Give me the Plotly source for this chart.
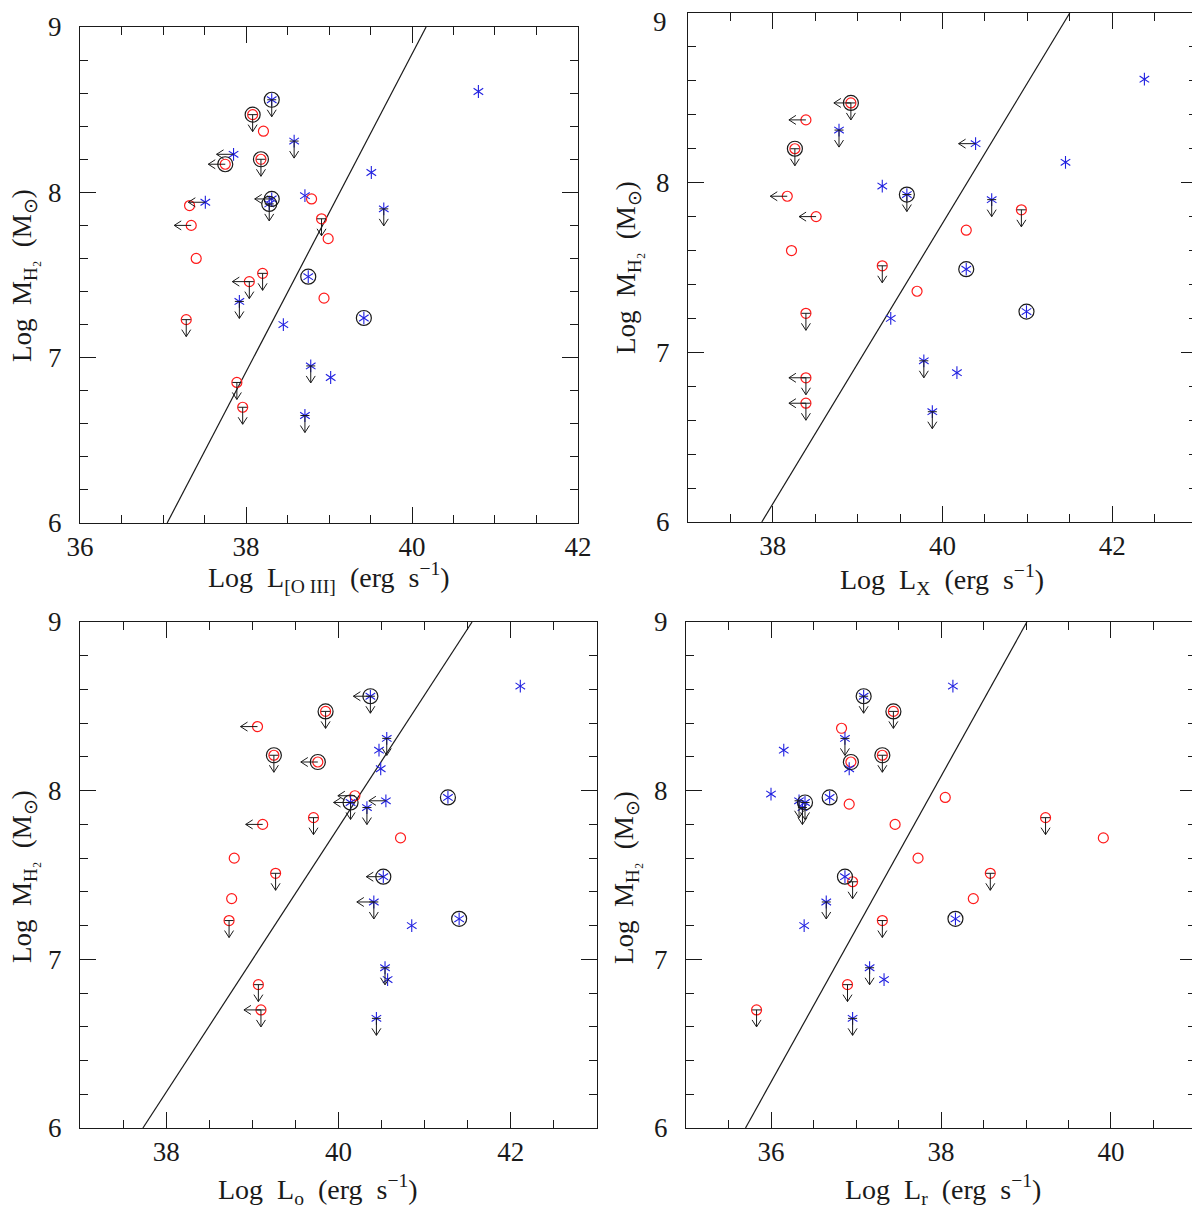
import plotly.graph_objects as go

# ---------------- data ----------------
# flags: d = upper limit in y (down arrow), l = upper limit in x (left arrow), c = black ring
P1_RED_X = [38.08, 38.21, 37.75, 38.18, 37.32, 37.34, 37.40, 38.79, 38.91, 38.99, 38.04, 38.20, 38.94, 37.28, 37.89, 37.96]
P1_RED_Y = [8.47, 8.37, 8.17, 8.20, 7.92, 7.80, 7.60, 7.96, 7.84, 7.72, 7.46, 7.51, 7.36, 7.23, 6.85, 6.70]
P1_RED_F = ["dc", "", "lc", "dc", "", "l", "", "", "d", "", "ld", "d", "", "d", "d", "d"]
P1_BLUE_X = [38.31, 38.58, 37.85, 37.51, 38.31, 38.28, 38.71, 39.51, 39.66, 40.80, 38.75, 37.92, 38.45, 39.42, 38.78, 39.02, 38.71]
P1_BLUE_Y = [8.56, 8.31, 8.23, 7.94, 7.96, 7.93, 7.98, 8.12, 7.90, 8.61, 7.49, 7.34, 7.20, 7.24, 6.95, 6.88, 6.65]
P1_BLUE_F = ["dc", "d", "l", "l", "lc", "dc", "", "", "d", "", "c", "d", "", "c", "d", "", "d"]
P1_FIT_X = [37.05, 40.17]
P1_FIT_Y = [6.0, 9.0]

P2_RED_X = [38.92, 38.39, 38.26, 38.17, 38.51, 38.22, 39.29, 39.70, 38.39, 38.39, 38.39, 40.28, 40.93]
P2_RED_Y = [8.47, 8.37, 8.20, 7.92, 7.80, 7.60, 7.51, 7.36, 7.23, 6.85, 6.70, 7.72, 7.84]
P2_RED_F = ["ldc", "l", "dc", "l", "l", "", "d", "", "d", "ld", "ld", "", "d"]
P2_BLUE_X = [38.78, 40.39, 41.45, 42.38, 39.29, 39.58, 40.58, 40.28, 40.99, 39.39, 39.78, 40.17, 39.88]
P2_BLUE_Y = [8.31, 8.23, 8.12, 8.61, 7.98, 7.93, 7.90, 7.49, 7.24, 7.20, 6.95, 6.88, 6.65]
P2_BLUE_F = ["d", "l", "", "", "", "dc", "d", "c", "c", "", "d", "", "d"]
P2_FIT_X = [37.87, 41.50]
P2_FIT_Y = [6.0, 9.0]

P3_RED_X = [39.85, 39.06, 39.25, 39.76, 40.19, 39.12, 39.71, 38.79, 39.27, 38.76, 38.73, 40.72, 39.07, 39.10]
P3_RED_Y = [8.47, 8.38, 8.21, 8.17, 7.97, 7.80, 7.84, 7.60, 7.51, 7.36, 7.23, 7.72, 6.85, 6.70]
P3_RED_F = ["dc", "l", "dc", "lc", "l", "l", "d", "", "d", "", "d", "", "d", "ld"]
P3_BLUE_X = [40.37, 42.11, 40.56, 40.47, 40.49, 40.14, 40.55, 40.33, 41.27, 40.52, 40.41, 40.85, 41.40, 40.54, 40.57, 40.44]
P3_BLUE_Y = [8.56, 8.62, 8.31, 8.24, 8.13, 7.93, 7.94, 7.90, 7.96, 7.49, 7.34, 7.20, 7.24, 6.95, 6.88, 6.65]
P3_BLUE_F = ["ldc", "", "d", "", "", "ldc", "l", "d", "c", "lc", "ld", "", "c", "d", "", "d"]
P3_FIT_X = [37.73, 41.55]
P3_FIT_Y = [6.0, 9.0]

P4_RED_X = [37.44, 36.83, 36.94, 37.31, 36.92, 37.46, 38.05, 37.73, 36.96, 38.58, 38.38, 37.31, 36.90, 35.83, 39.23, 39.91]
P4_RED_Y = [8.47, 8.37, 8.17, 8.21, 7.92, 7.80, 7.96, 7.60, 7.46, 7.51, 7.36, 7.23, 6.85, 6.70, 7.84, 7.72]
P4_RED_F = ["dc", "", "c", "dc", "", "", "", "", "d", "d", "", "d", "d", "d", "d", ""]
P4_BLUE_X = [37.09, 38.14, 36.87, 36.15, 36.92, 36.00, 36.69, 36.40, 36.33, 36.37, 36.87, 36.65, 36.39, 38.17, 37.16, 37.33, 36.96]
P4_BLUE_Y = [8.56, 8.62, 8.31, 8.24, 8.13, 7.98, 7.96, 7.93, 7.94, 7.90, 7.49, 7.34, 7.20, 7.24, 6.95, 6.88, 6.65]
P4_BLUE_F = ["dc", "", "d", "", "", "", "c", "dc", "d", "d", "c", "d", "", "c", "d", "", "d"]
P4_FIT_X = [35.70, 39.01]
P4_FIT_Y = [6.0, 9.0]

X_RANGES = [[36, 42], [37, 43], [37, 43], [35, 41]]
Y_RANGE = [6, 9]
Y_TICKS = [6, 7, 8, 9]
SP = "&nbsp;&nbsp;"
X_TITLES = ["Log" + SP + "L<sub>[O III]</sub>" + SP + "(erg" + SP + "s<sup>−1</sup>)",
            "Log" + SP + "L<sub>X</sub>" + SP + "(erg" + SP + "s<sup>−1</sup>)",
            "Log" + SP + "L<sub>o</sub>" + SP + "(erg" + SP + "s<sup>−1</sup>)",
            "Log" + SP + "L<sub>r</sub>" + SP + "(erg" + SP + "s<sup>−1</sup>)"]
Y_TITLE = "Log" + SP + "M<sub>H₂</sub>" + SP + "(M<sub>⊙</sub>)"

# ---------------- layout geometry (screen pixels) ----------------
OFF = 8                      # page body margin of the exported html
W, H = 1200 - OFF, 1209 - OFF
FRAMES = [  # left, right, top, bottom (screen pixels)
    (80, 578, 27, 523),
    (688, 1197, 13, 522),
    (80, 597, 622, 1128),
    (686, 1196, 622, 1128),
]
XTITLE_POS = [(329, 577), (942, 579), (318, 1189), (943, 1189)]
YTITLE_POS = [(24, 276), (628, 268), (24, 877), (626, 877)]
LABEL_GAP = 28               # distance from frame to the centre of a y tick label
TOP_LABEL_MIN = 22           # lowest screen y at which a top tick label fits on the page

PANELS = [
    (P1_RED_X, P1_RED_Y, P1_RED_F, P1_BLUE_X, P1_BLUE_Y, P1_BLUE_F, P1_FIT_X, P1_FIT_Y),
    (P2_RED_X, P2_RED_Y, P2_RED_F, P2_BLUE_X, P2_BLUE_Y, P2_BLUE_F, P2_FIT_X, P2_FIT_Y),
    (P3_RED_X, P3_RED_Y, P3_RED_F, P3_BLUE_X, P3_BLUE_Y, P3_BLUE_F, P3_FIT_X, P3_FIT_Y),
    (P4_RED_X, P4_RED_Y, P4_RED_F, P4_BLUE_X, P4_BLUE_Y, P4_BLUE_F, P4_FIT_X, P4_FIT_Y),
]

RED = "#ff1a1a"
BLUE = "#2020e0"
INK = "#1a1a1a"
FONT = "Liberation Serif"

fig = go.Figure()


def arrow_path(xs, ys, flags, xpu, ypu):
    L, hw, hh, bar = 17.0, 4.5, 7.0, 4.5
    px, py = [], []
    for x, y, f in zip(xs, ys, flags):
        if "d" in f:
            ty = y - L / ypu
            px += [x - bar / xpu, x + bar / xpu, None]
            py += [y, y, None]
            px += [x, x, None]
            py += [y, ty, None]
            px += [x - hw / xpu, x, x + hw / xpu, None]
            py += [ty + hh / ypu, ty, ty + hh / ypu, None]
        if "l" in f:
            tx = x - L / xpu
            px += [x, tx, None]
            py += [y, y, None]
            px += [tx + hh / xpu, tx, tx + hh / xpu, None]
            py += [y + hw / ypu, y, y - hw / ypu, None]
    return px, py


def fx_(p):
    return (p - OFF) / W


def fy_(p):
    return 1 - (p - OFF) / H


annotations = []
for i, (rx, ry, rf, bx, by, bf, fx, fy) in enumerate(PANELS):
    n = "" if i == 0 else str(i + 1)
    xa, ya = "x" + n, "y" + n
    l, r, t, b = FRAMES[i]
    xr = X_RANGES[i]
    xpu = (r - l) / (xr[1] - xr[0])
    ypu = (b - t) / (Y_RANGE[1] - Y_RANGE[0])

    # fit line
    fig.add_trace(go.Scatter(x=fx, y=fy, mode="lines", line=dict(color=INK, width=1.2),
                             xaxis=xa, yaxis=ya, showlegend=False, hoverinfo="skip"))
    # red circles
    fig.add_trace(go.Scatter(x=rx, y=ry, mode="markers", xaxis=xa, yaxis=ya, showlegend=False,
                             marker=dict(symbol="circle-open", size=10, color=RED,
                                         line=dict(width=1.2, color=RED))))
    # blue six-armed asterisks (two three-armed glyphs overlaid)
    for sym in ("y-up-open", "y-down-open"):
        fig.add_trace(go.Scatter(x=bx, y=by, mode="markers", xaxis=xa, yaxis=ya, showlegend=False,
                                 marker=dict(symbol=sym, size=8, color=BLUE,
                                             line=dict(width=1.1, color=BLUE))))
    # black rings
    cx = [x for x, f in zip(rx, rf) if "c" in f] + [x for x, f in zip(bx, bf) if "c" in f]
    cy = [y for y, f in zip(ry, rf) if "c" in f] + [y for y, f in zip(by, bf) if "c" in f]
    fig.add_trace(go.Scatter(x=cx, y=cy, mode="markers", xaxis=xa, yaxis=ya, showlegend=False,
                             marker=dict(symbol="circle-open", size=15, color=INK,
                                         line=dict(width=1.2, color=INK))))
    # arrows
    ax1, ay1 = arrow_path(rx, ry, rf, xpu, ypu)
    ax2, ay2 = arrow_path(bx, by, bf, xpu, ypu)
    fig.add_trace(go.Scatter(x=ax1 + ax2, y=ay1 + ay2, mode="lines", xaxis=xa, yaxis=ya,
                             showlegend=False, hoverinfo="skip",
                             line=dict(color=INK, width=1.0)))

    # y tick labels: the top one is nudged down as a text if it would run off the page
    ytext = [str(v) for v in Y_TICKS]
    if t < TOP_LABEL_MIN:
        ytext[-1] = ""
        annotations.append(dict(text=str(Y_TICKS[-1]), x=fx_(l - LABEL_GAP), y=fy_(TOP_LABEL_MIN),
                                xref="paper", yref="paper", showarrow=False, borderpad=0,
                                xanchor="center", yanchor="middle",
                                font=dict(family=FONT, size=27, color=INK)))

    common = dict(showline=True, linecolor=INK, linewidth=1.2, mirror="allticks",
                  ticks="inside", ticklen=16, tickwidth=1.1, tickcolor=INK,
                  showgrid=False, zeroline=False, automargin=False, ticklabeloverflow="allow",
                  tickfont=dict(family=FONT, size=27, color=INK))
    fig.update_layout(**{
        "xaxis" + n: dict(common, domain=[fx_(l), fx_(r)], range=[xr[0] - 1e-4, xr[1] + 1e-4],
                          anchor=ya, tick0=0, dtick=2, ticklabelstandoff=-1,
                          minor=dict(dtick=0.5, ticklen=8, ticks="inside", tickcolor=INK, tickwidth=1.1)),
        "yaxis" + n: dict(common, domain=[fy_(b), fy_(t)], range=[Y_RANGE[0] - 1e-4, Y_RANGE[1] + 1e-4],
                          anchor=xa, tickmode="array", tickvals=Y_TICKS, ticktext=ytext,
                          ticklabelstandoff=12,
                          minor=dict(dtick=0.2, ticklen=8, ticks="inside", tickcolor=INK, tickwidth=1.1)),
    })

    tx, ty = XTITLE_POS[i]
    annotations.append(dict(text=X_TITLES[i], x=fx_(tx), y=fy_(ty), xref="paper", yref="paper",
                            showarrow=False, xanchor="center", yanchor="middle",
                            font=dict(family=FONT, size=28, color=INK)))
    yx, yy = YTITLE_POS[i]
    annotations.append(dict(text=Y_TITLE, x=fx_(yx), y=fy_(yy), xref="paper", yref="paper",
                            showarrow=False, xanchor="center", yanchor="middle", textangle=-90,
                            font=dict(family=FONT, size=27, color=INK)))

fig.update_layout(template="none", width=W, height=H, margin=dict(l=0, r=0, t=0, b=0),
                  plot_bgcolor="white", paper_bgcolor="white",
                  annotations=annotations, showlegend=False)

fig.write_html("out.html")
